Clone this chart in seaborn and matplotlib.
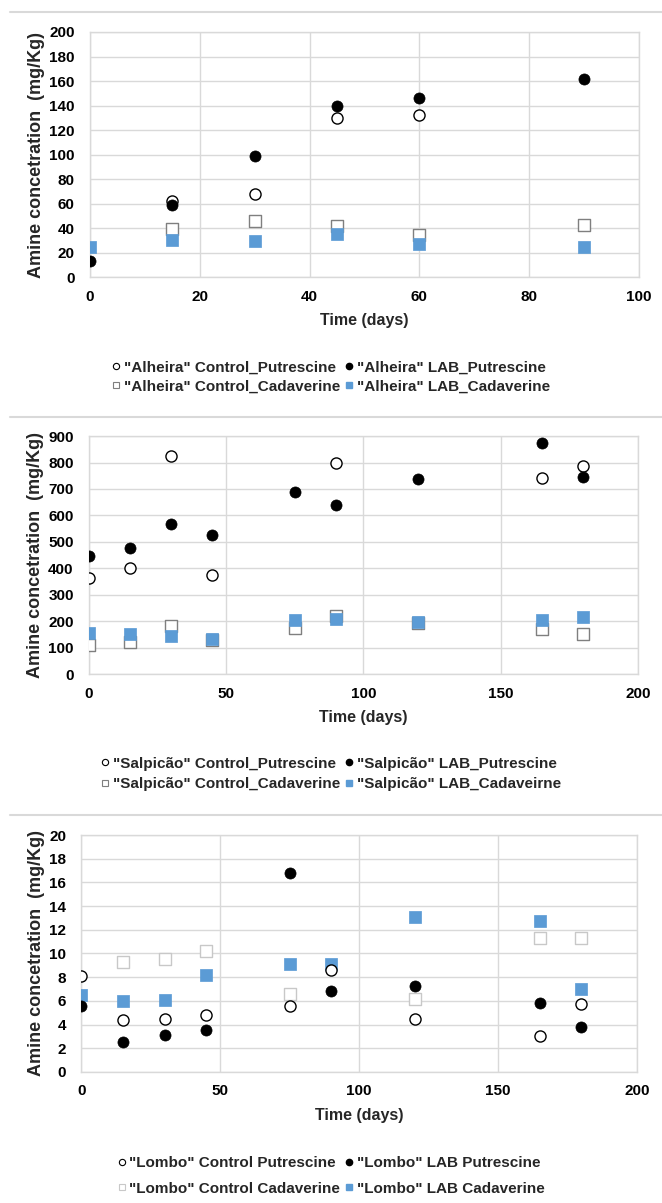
import matplotlib
matplotlib.use("Agg")
import matplotlib.pyplot as plt
from matplotlib.lines import Line2D
import seaborn as sns
import pandas as pd

sns.set_theme(style="white")
plt.rcParams['font.family'] = ['Liberation Sans Narrow', 'Liberation Sans', 'DejaVu Sans']
plt.rcParams['font.weight'] = 'bold'

# ---- Panel 1: Alheira ----
alh_cp_x = [15, 30, 45, 60]
alh_cp_y = [62, 67.5, 130, 132]
alh_lp_x = [0, 15, 30, 45, 60, 90]
alh_lp_y = [12.8, 59, 98.5, 140, 146.5, 162]
alh_cc_x = [15, 30, 45, 60, 90]
alh_cc_y = [39, 46, 41.7, 34.4, 42.6]
alh_lc_x = [0, 15, 30, 45, 60, 90]
alh_lc_y = [24.6, 30.6, 29.5, 35.5, 27.3, 24.3]
alh_labels = ['"Alheira" Control_Putrescine', '"Alheira" LAB_Putrescine',
              '"Alheira" Control_Cadaverine', '"Alheira" LAB_Cadaverine']

# ---- Panel 2: Salpicão ----
sal_cp_x = [0, 15, 30, 45, 90, 165, 180]
sal_cp_y = [362, 400, 823, 373, 798, 742, 788]
sal_lp_x = [0, 15, 30, 45, 75, 90, 120, 165, 180]
sal_lp_y = [447, 475, 568, 524, 687, 640, 739, 873, 747]
sal_cc_x = [0, 15, 30, 45, 75, 90, 120, 165, 180]
sal_cc_y = [108, 120, 181, 128, 175, 219, 194, 169, 152]
sal_lc_x = [0, 15, 30, 45, 75, 90, 120, 165, 180]
sal_lc_y = [154, 150, 144, 134, 204, 207, 195, 204, 217]
sal_labels = ['"Salpicão" Control_Putrescine', '"Salpicão" LAB_Putrescine',
              '"Salpicão" Control_Cadaverine', '"Salpicão" LAB_Cadaveirne']

# ---- Panel 3: Lombo ----
lom_cp_x = [0, 15, 30, 45, 75, 90, 120, 165, 180]
lom_cp_y = [8.1, 4.37, 4.48, 4.82, 5.6, 8.6, 4.5, 3.0, 5.75]
lom_lp_x = [0, 15, 30, 45, 75, 90, 120, 165, 180]
lom_lp_y = [5.6, 2.56, 3.1, 3.55, 16.8, 6.85, 7.24, 5.83, 3.8]
lom_cc_x = [15, 30, 45, 75, 120, 165, 180]
lom_cc_y = [9.27, 9.5, 10.17, 6.54, 6.2, 11.3, 11.3]
lom_lc_x = [0, 15, 30, 45, 75, 90, 120, 165, 180]
lom_lc_y = [6.48, 6.0, 6.06, 8.2, 9.1, 9.13, 13.07, 12.73, 7.0]
lom_labels = ['"Lombo" Control Putrescine', '"Lombo" LAB Putrescine',
              '"Lombo" Control Cadaverine', '"Lombo" LAB Cadaverine']

BLUE = '#5b9bd5'

fig = plt.figure(figsize=(6.62, 12.03), dpi=100)

panels = [
    dict(pos=[0.136, 0.7697, 0.829, 0.2037], xlim=100, xstep=20, ylim=200, ystep=20,
         cp=(alh_cp_x, alh_cp_y), lp=(alh_lp_x, alh_lp_y), cc=(alh_cc_x, alh_cc_y),
         lc=(alh_lc_x, alh_lc_y), labels=alh_labels, ccedge='#7f7f7f',
         leg_y=0.6866, lspace=0.35),
    dict(pos=[0.1344, 0.4397, 0.829, 0.1978], xlim=200, xstep=50, ylim=900, ystep=100,
         cp=(sal_cp_x, sal_cp_y), lp=(sal_lp_x, sal_lp_y), cc=(sal_cc_x, sal_cc_y),
         lc=(sal_lc_x, sal_lc_y), labels=sal_labels, ccedge='#7f7f7f',
         leg_y=0.3566, lspace=0.45),
    dict(pos=[0.123, 0.1089, 0.839, 0.197], xlim=200, xstep=50, ylim=20, ystep=2,
         cp=(lom_cp_x, lom_cp_y), lp=(lom_lp_x, lom_lp_y), cc=(lom_cc_x, lom_cc_y),
         lc=(lom_lc_x, lom_lc_y), labels=lom_labels, ccedge='#c8c8c8',
         leg_y=0.0225, lspace=0.75),
]

for p in panels:
    ax = fig.add_axes(p['pos'])
    ms = 64
    sns.scatterplot(x=p['cc'][0], y=p['cc'][1], ax=ax, marker='s', s=ms,
                    facecolor='white', edgecolor=p['ccedge'], linewidth=1.0, zorder=3)
    sns.scatterplot(x=p['lc'][0], y=p['lc'][1], ax=ax, marker='s', s=ms,
                    color=BLUE, edgecolor=BLUE, linewidth=0.5, zorder=4)
    sns.scatterplot(x=p['cp'][0], y=p['cp'][1], ax=ax, marker='o', s=ms,
                    facecolor='white', edgecolor='black', linewidth=1.0, zorder=5)
    sns.scatterplot(x=p['lp'][0], y=p['lp'][1], ax=ax, marker='o', s=ms,
                    color='black', edgecolor='black', linewidth=0.5, zorder=6)
    ax.set_xlim(0, p['xlim'])
    ax.set_ylim(0, p['ylim'])
    ax.set_xticks(range(0, p['xlim'] + 1, p['xstep']))
    ax.set_yticks(range(0, p['ylim'] + 1, p['ystep']))
    ax.grid(True, color='#d9d9d9', linewidth=1.0)
    ax.set_axisbelow(True)
    for sp in ax.spines.values():
        sp.set_color('#d9d9d9')
        sp.set_linewidth(1.0)
    ax.tick_params(axis='x', labelsize=11, length=0, pad=9, colors='black')
    ax.tick_params(axis='y', labelsize=11, length=0, pad=11, colors='black')
    for t in ax.get_xticklabels() + ax.get_yticklabels():
        t.set_fontweight('bold')
    ax.set_xlabel('Time (days)', fontsize=11.5, fontweight='bold', labelpad=7)
    ax.set_ylabel('Amine concetration  (mg/Kg)', fontsize=13, fontweight='bold', labelpad=3)

    handles = [
        Line2D([], [], marker='o', linestyle='none', markersize=4.5,
               markerfacecolor='white', markeredgecolor='black', markeredgewidth=0.8),
        Line2D([], [], marker='s', linestyle='none', markersize=4.5,
               markerfacecolor='white', markeredgecolor=p['ccedge'], markeredgewidth=0.8),
        Line2D([], [], marker='o', linestyle='none', markersize=4.5,
               markerfacecolor='black', markeredgecolor='black'),
        Line2D([], [], marker='s', linestyle='none', markersize=4.5,
               markerfacecolor=BLUE, markeredgecolor=BLUE),
    ]
    labs = [p['labels'][0], p['labels'][2], p['labels'][1], p['labels'][3]]
    fig.legend(handles, labs, loc='center', bbox_to_anchor=(0.5, p['leg_y']),
               ncol=2, frameon=False, handlelength=0.6,
               handletextpad=0.2, columnspacing=0.3, labelspacing=p['lspace'],
               prop={'weight': 'bold', 'size': 11})

# separator lines
for yy in [1 - 12 / 1203, 1 - 417 / 1203, 1 - 815 / 1203]:
    fig.add_artist(Line2D([0.015, 1.0], [yy, yy], transform=fig.transFigure,
                          color='#d9d9d9', linewidth=1.5))

fig.savefig('out.png', dpi=100, facecolor='white')
